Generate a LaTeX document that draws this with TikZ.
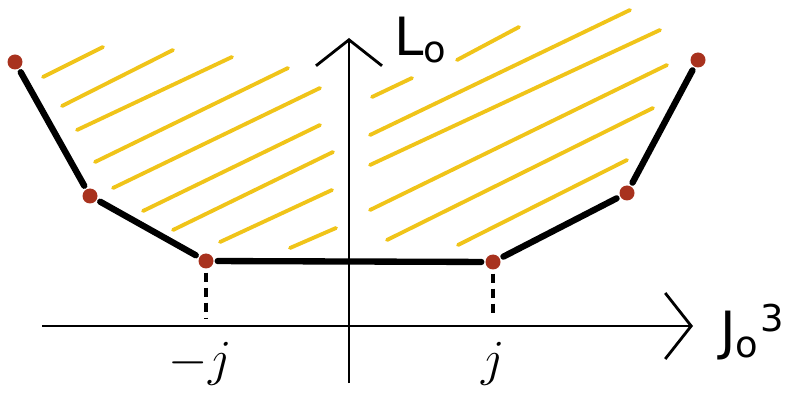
\documentclass[tikz,border=0pt]{standalone}
\usepackage{fontspec}
\setsansfont{DejaVu Sans}
\usepackage{tikz}
\usetikzlibrary{arrows.meta, positioning}
\definecolor{hatchyellow}{HTML}{F0C419}
\definecolor{vertexred}{HTML}{A8321E}
\tikzset{
  hatch/.style={draw=hatchyellow, line width=1.1pt, line cap=round},
  edge/.style={line width=1.8pt, line cap=round},
  axis/.style={line width=0.8pt, -{Straight Barb[length=2.6mm,width=6.6mm,line width=0.8pt]}},
  vertex/.style={circle, fill=vertexred, inner sep=0pt, minimum size=1.5mm, outer sep=1.2pt},
  guide/.style={line width=0.9pt, dash pattern=on 0.9mm off 0.6mm},
  lbl/.style={font=\sffamily\fontsize{15}{17}\selectfont, inner sep=1pt},
}

\begin{document}
\begin{tikzpicture}[x=0.1mm, y=-0.1mm]
\useasboundingbox (0,0) rectangle (790,401);

% hatching of the allowed region
\foreach \a/\b/\c/\d in {43/77/103/47, 62/106/173/50, 77/130/232/57, 95/162/288/68,
    113/188/320/88, 143/211/320/125, 173/230/333/152, 220/242/332/190, 290/248/336/228,
    372/97/412/78, 457/60/519/27, 370/135/630/10, 370/165/660/30, 370/210/667/65,
    387/240/653/108, 458/245/627/160}
  \draw[hatch] (\a,\b) -- (\c,\d);

% axes
\coordinate (xl) at (42,326);  \coordinate (xr) at (693,326);
\coordinate (yb) at (349,383); \coordinate (yt) at (349,38);
\draw[axis] (xl) -- (xr);
\draw[axis] (yb) -- (yt);
\node[lbl, anchor=west] (lo) at (390,40) {L$_{\mathsf{o}}$};
\node[lbl, anchor=west] (jo) at (716,332) {J$_{\mathsf{o}}{}^{\mathsf{3}}$};

% boundary polyline
\node[vertex] (p1) at (15,62) {};
\node[vertex] (p2) at (90,196) {};
\node[vertex] (p3) at (206,261) {};
\node[vertex] (p4) at (493,262) {};
\node[vertex] (p5) at (627,193) {};
\node[vertex] (p6) at (698,60) {};
\draw[edge] (p1)--(p2); \draw[edge] (p2)--(p3); \draw[edge] (p3)--(p4);
\draw[edge] (p4)--(p5); \draw[edge] (p5)--(p6);

% projections onto the axis
\coordinate (m3) at (206,318); \coordinate (m4) at (493,318);
\draw[guide] (p3.south) -- (m3);
\draw[guide] (p4.south) -- (m4);
\node[lbl, anchor=north] (mj) at (200,338) {$-j$};
\node[lbl, anchor=north] (pj) at (493,338) {$j$};
\end{tikzpicture}
\end{document}
